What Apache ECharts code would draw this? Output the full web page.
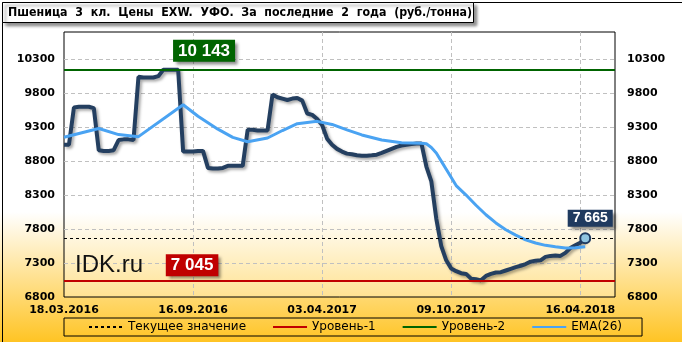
<!DOCTYPE html>
<html><head><meta charset="utf-8">
<script src="https://cdn.jsdelivr.net/npm/echarts@6/dist/echarts.min.js"></script>
<style>html,body{margin:0;padding:0;background:#fff}#c{width:682px;height:342px}</style>
</head><body><div id="c"></div>
<script>
const titleText = 'Пшеница  3  кл.  Цены  EXW.  УФО.  За  последние  2  года  (руб./тонна)';
const xTickLabels = ['18.03.2016', '16.09.2016', '03.04.2017', '09.10.2017', '16.04.2018'];
const labelStep = 26;
const categories = ['0','1','2','3','4','5','6','7','8','9','10','11','12','13','14','15','16','17','18','19','20','21','22','23','24','25','26','27','28','29','30','31','32','33','34','35','36','37','38','39','40','41','42','43','44','45','46','47','48','49','50','51','52','53','54','55','56','57','58','59','60','61','62','63','64','65','66','67','68','69','70','71','72','73','74','75','76','77','78','79','80','81','82','83','84','85','86','87','88','89','90','91','92','93','94','95','96','97','98','99','100','101','102','103','104','105','106','107','108','109','110','111'];
const yTickLabels = [6800, 7300, 7800, 8300, 8800, 9300, 9800, 10300];
const price = [9040,9040,9590,9600,9600,9600,9580,8960,8950,8950,8960,9110,9120,9120,9110,10040,10030,10030,10030,10050,10143,10143,10143,10143,8940,8940,8940,8950,8950,8700,8690,8690,8700,8730,8730,8730,8730,9260,9260,9250,9250,9250,9780,9740,9720,9700,9720,9730,9690,9500,9480,9420,9330,9130,9040,8980,8940,8910,8900,8885,8880,8880,8885,8895,8920,8950,8980,9010,9030,9040,9050,9060,9060,8720,8500,7950,7550,7340,7220,7180,7150,7140,7070,7060,7045,7110,7140,7160,7165,7190,7215,7240,7260,7285,7320,7335,7340,7390,7405,7410,7405,7450,7520,7560,7600,7665];
const ema = [9150,null,null,null,null,null,null,9280,null,null,null,9190,null,null,null,9160,null,null,null,null,null,null,null,null,9630,null,null,9460,null,null,null,9270,null,null,9150,null,null,9085,null,null,null,9140,null,null,9250,null,null,9350,null,null,null,9385,null,null,9340,null,null,9260,null,null,9185,null,null,null,9110,null,null,null,9070,null,null,null,9062,9055,9000,8920,8800,8680,null,8440,null,8300,null,8150,null,8010,null,7890,null,7790,null,7710,null,7640,null,7595,null,7560,null,7540,null,7522,null,7525,null,7540];
const currentValue = 7665;
const level1 = 7045;
const level2 = 10143;
const lastIndex = 105;
const labelAnchorIndex = 26;

const fmt = v => String(v).replace(/\B(?=(\d{3})+(?!\d))/g, ' ');

const chart = echarts.init(document.getElementById('c'), null, {renderer: 'canvas'});
const axisFont = {color: '#000', fontWeight: 'bold', fontSize: 11, fontFamily: 'DejaVu Sans'};
const boxLabel = (bg, size, pad) => ({
  show: true, position: 'inside', color: '#fff', fontWeight: 'bold', fontSize: size,
  fontFamily: 'Liberation Sans', backgroundColor: bg, padding: pad,
  shadowColor: 'rgba(0,0,0,0.45)', shadowBlur: 3, shadowOffsetX: 3, shadowOffsetY: 3
});

chart.setOption({
  animation: false,
  backgroundColor: {type: 'linear', x: 0, y: 0, x2: 0, y2: 1, colorStops: [
    {offset: 0, color: '#ffffff'}, {offset: 0.62, color: '#ffffff'}, {offset: 1, color: '#ffc424'}]},
  grid: {left: 64, right: 67, top: 32, bottom: 45, show: true, borderColor: '#000', borderWidth: 1,
    backgroundColor: {type: 'linear', x: 0, y: 0, x2: 0, y2: 1, colorStops: [
      {offset: 0, color: '#ffffff'}, {offset: 0.68, color: '#ffffff'}, {offset: 1, color: '#ffe292'}]}},
  xAxis: {
    type: 'category', data: categories, boundaryGap: false,
    axisLine: {show: false}, axisTick: {show: false},
    axisLabel: Object.assign({}, axisFont, {margin: 8, interval: labelStep - 1,
      formatter: (v, i) => (i % labelStep === 0 && xTickLabels[i / labelStep]) ? xTickLabels[i / labelStep] : ''}),
    splitLine: {show: true, interval: labelStep - 1, showMinLine: false,
      lineStyle: {color: '#c0c0c0', type: [4, 3], width: 1}}
  },
  yAxis: [
    {type: 'value', min: 6800, max: 10700, interval: 500, position: 'left',
      axisLine: {show: false}, axisTick: {show: false},
      axisLabel: Object.assign({}, axisFont, {margin: 9, showMaxLabel: false,
        formatter: v => yTickLabels.includes(v) ? String(v) : ''}),
      splitLine: {show: true, showMinLine: false, showMaxLine: false,
        lineStyle: {color: '#c0c0c0', type: [4, 3], width: 1}}},
    {type: 'value', min: 6800, max: 10700, interval: 500, position: 'right',
      axisLine: {show: false}, axisTick: {show: false},
      axisLabel: Object.assign({}, axisFont, {margin: 12, showMaxLabel: false,
        formatter: v => yTickLabels.includes(v) ? String(v) : ''}),
      splitLine: {show: false}}
  ],
  legend: {
    left: 64, top: 318, itemWidth: 34, itemHeight: 10, itemGap: 26,
    padding: [3, 20, 3, 24], borderColor: '#000', borderWidth: 1,
    itemStyle: {opacity: 0, borderWidth: 0},
    data: ['Текущее значение', 'Уровень-1', 'Уровень-2', 'EMA(26)'],
    textStyle: {color: '#000', fontSize: 12, fontFamily: 'DejaVu Sans'}
  },
  series: [
    {name: 'Текущее значение', type: 'line', data: [], symbol: 'none',
      lineStyle: {color: '#000', width: 1, type: [3, 3]}, itemStyle: {color: '#000'},
      markLine: {silent: true, symbol: 'none', label: {show: false},
        lineStyle: {color: '#000', width: 1, type: [3, 3]}, data: [{yAxis: currentValue}]}},
    {name: 'Уровень-1', type: 'line', data: [], symbol: 'none',
      lineStyle: {color: '#c00000', width: 3}, itemStyle: {color: '#c00000'},
      markLine: {silent: true, symbol: 'none', label: {show: false},
        lineStyle: {color: '#c00000', width: 2, type: 'solid'}, data: [{yAxis: level1}]},
      markPoint: {symbolSize: 0, data: [{coord: [labelAnchorIndex, level1], value: level1,
        label: Object.assign(boxLabel('#c00000', 17, [3, 5, 2, 5]), {offset: [-1, -15], formatter: () => fmt(level1)})}]}},
    {name: 'Уровень-2', type: 'line', data: [], symbol: 'none',
      lineStyle: {color: '#006400', width: 3}, itemStyle: {color: '#006400'},
      markLine: {silent: true, symbol: 'none', label: {show: false},
        lineStyle: {color: '#006400', width: 2, type: 'solid'}, data: [{yAxis: level2}]},
      markPoint: {symbolSize: 0, data: [{coord: [labelAnchorIndex, level2], value: level2,
        label: Object.assign(boxLabel('#006400', 17, [3, 5, 2, 5]), {offset: [11, -19], formatter: () => fmt(level2)})}]}},
    {name: 'Цена', type: 'line', data: price, symbol: 'none', z: 3,
      lineStyle: {color: '#243f60', width: 4, shadowColor: 'rgba(0,0,0,0.35)', shadowBlur: 3, shadowOffsetX: 2, shadowOffsetY: 2},
      itemStyle: {color: '#243f60'},
      markPoint: {z: 6, data: [
        {coord: [lastIndex, currentValue], symbol: 'circle', symbolSize: 10,
          itemStyle: {color: '#8fc4e0', borderColor: '#1f3a5f', borderWidth: 2},
          label: {show: false}},
        {coord: [lastIndex, currentValue], symbolSize: 0, value: currentValue,
          label: Object.assign(boxLabel('#1f3a5f', 14, [2, 5, 1, 5]), {offset: [5, -20], formatter: () => fmt(currentValue)})}
      ]}},
    {name: 'EMA(26)', type: 'line', data: ema, symbol: 'none', connectNulls: true, z: 4,
      lineStyle: {color: '#4aa3f2', width: 3}, itemStyle: {color: '#4aa3f2'}}
  ],
  graphic: [
    {type: 'rect', left: 0, top: 0, z: 100, silent: true,
      shape: {x: 0.5, y: 0.5, width: 681, height: 341}, style: {fill: null, stroke: '#000', lineWidth: 1}},
    {type: 'rect', z: 101, silent: true, shape: {x: 2.5, y: 2.5, width: 471, height: 20},
      style: {fill: '#fff', stroke: '#000', lineWidth: 1, shadowColor: 'rgba(0,0,0,0.45)', shadowBlur: 3, shadowOffsetX: 3, shadowOffsetY: 3}},
    {type: 'text', z: 102, silent: true, x: 8, y: 13,
      style: {text: titleText, fill: '#000', font: 'bold 12.3px "DejaVu Sans Condensed", "DejaVu Sans"', verticalAlign: 'middle'}},
    {type: 'text', z: 50, silent: true, x: 75, y: 265,
      style: {text: 'IDK.ru', fill: '#111', font: '24px "Liberation Sans"', verticalAlign: 'middle'}}
  ]
});
</script></body></html>
